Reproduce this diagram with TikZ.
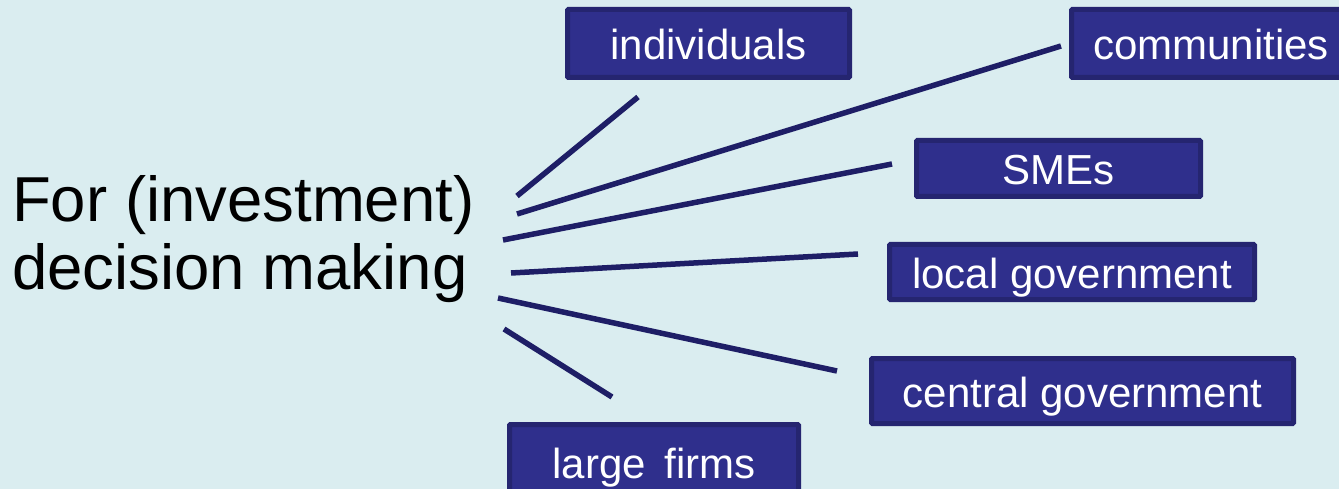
\documentclass[tikz,border=0pt]{standalone}
\usepackage{fontspec}
\setmainfont{Liberation Sans}
\definecolor{bg}{HTML}{DAEDF0}
\definecolor{boxfill}{HTML}{2F2F8C}
\definecolor{boxedge}{HTML}{252570}
\definecolor{linecol}{HTML}{1E1E66}
\begin{document}
\begin{tikzpicture}[x=1pt,y=-1pt,
  tag/.style={draw=boxedge,fill=boxfill,line width=5pt,text=white,
    font=\fontsize{42}{42}\selectfont,text height=32pt,text depth=0pt,
    inner sep=0pt,rounded corners=1pt},
  ray/.style={draw=linecol,line width=5.5pt}]
\useasboundingbox (0,0) rectangle (1339,489);
\fill[bg] (0,0) rectangle (1339,489);
\begin{scope}
\clip (0,0) rectangle (1339,489);
\node[align=left,anchor=base west,font=\fontsize{63.5}{68}\selectfont,inner sep=0pt] (main) at (12,290)
  {For (investment)\\decision making};
\node[tag,minimum width=282pt,minimum height=68pt] (ind) at (708.5,43.5) {individuals};
\node[tag,minimum width=279pt,minimum height=68pt] (com) at (1211,43.5) {communities};
\node[tag,minimum width=284pt,minimum height=56pt] (sme) at (1058.5,168.5) {SMEs};
\node[tag,minimum width=365pt,minimum height=55pt] (loc) at (1072,272) {local government};
\node[tag,minimum width=422pt,minimum height=65pt] (cen) at (1082.5,391) {central government};
\node[tag,minimum width=289pt,minimum height=75pt] (lar) at (654,462) {large\hspace{0.45em}firms};
\coordinate (a1) at (517,196); \coordinate (b1) at (638,97);
\coordinate (a2) at (517,214); \coordinate (b2) at (1061,46);
\coordinate (a3) at (503,240); \coordinate (b3) at (892,164);
\coordinate (a4) at (511,273); \coordinate (b4) at (858,254);
\coordinate (a5) at (498,298); \coordinate (b5) at (837,371);
\coordinate (a6) at (504,329); \coordinate (b6) at (612,397);
\draw[ray] (a1) -- (b1);
\draw[ray] (a2) -- (b2);
\draw[ray] (a3) -- (b3);
\draw[ray] (a4) -- (b4);
\draw[ray] (a5) -- (b5);
\draw[ray] (a6) -- (b6);
\end{scope}
\end{tikzpicture}
\end{document}
